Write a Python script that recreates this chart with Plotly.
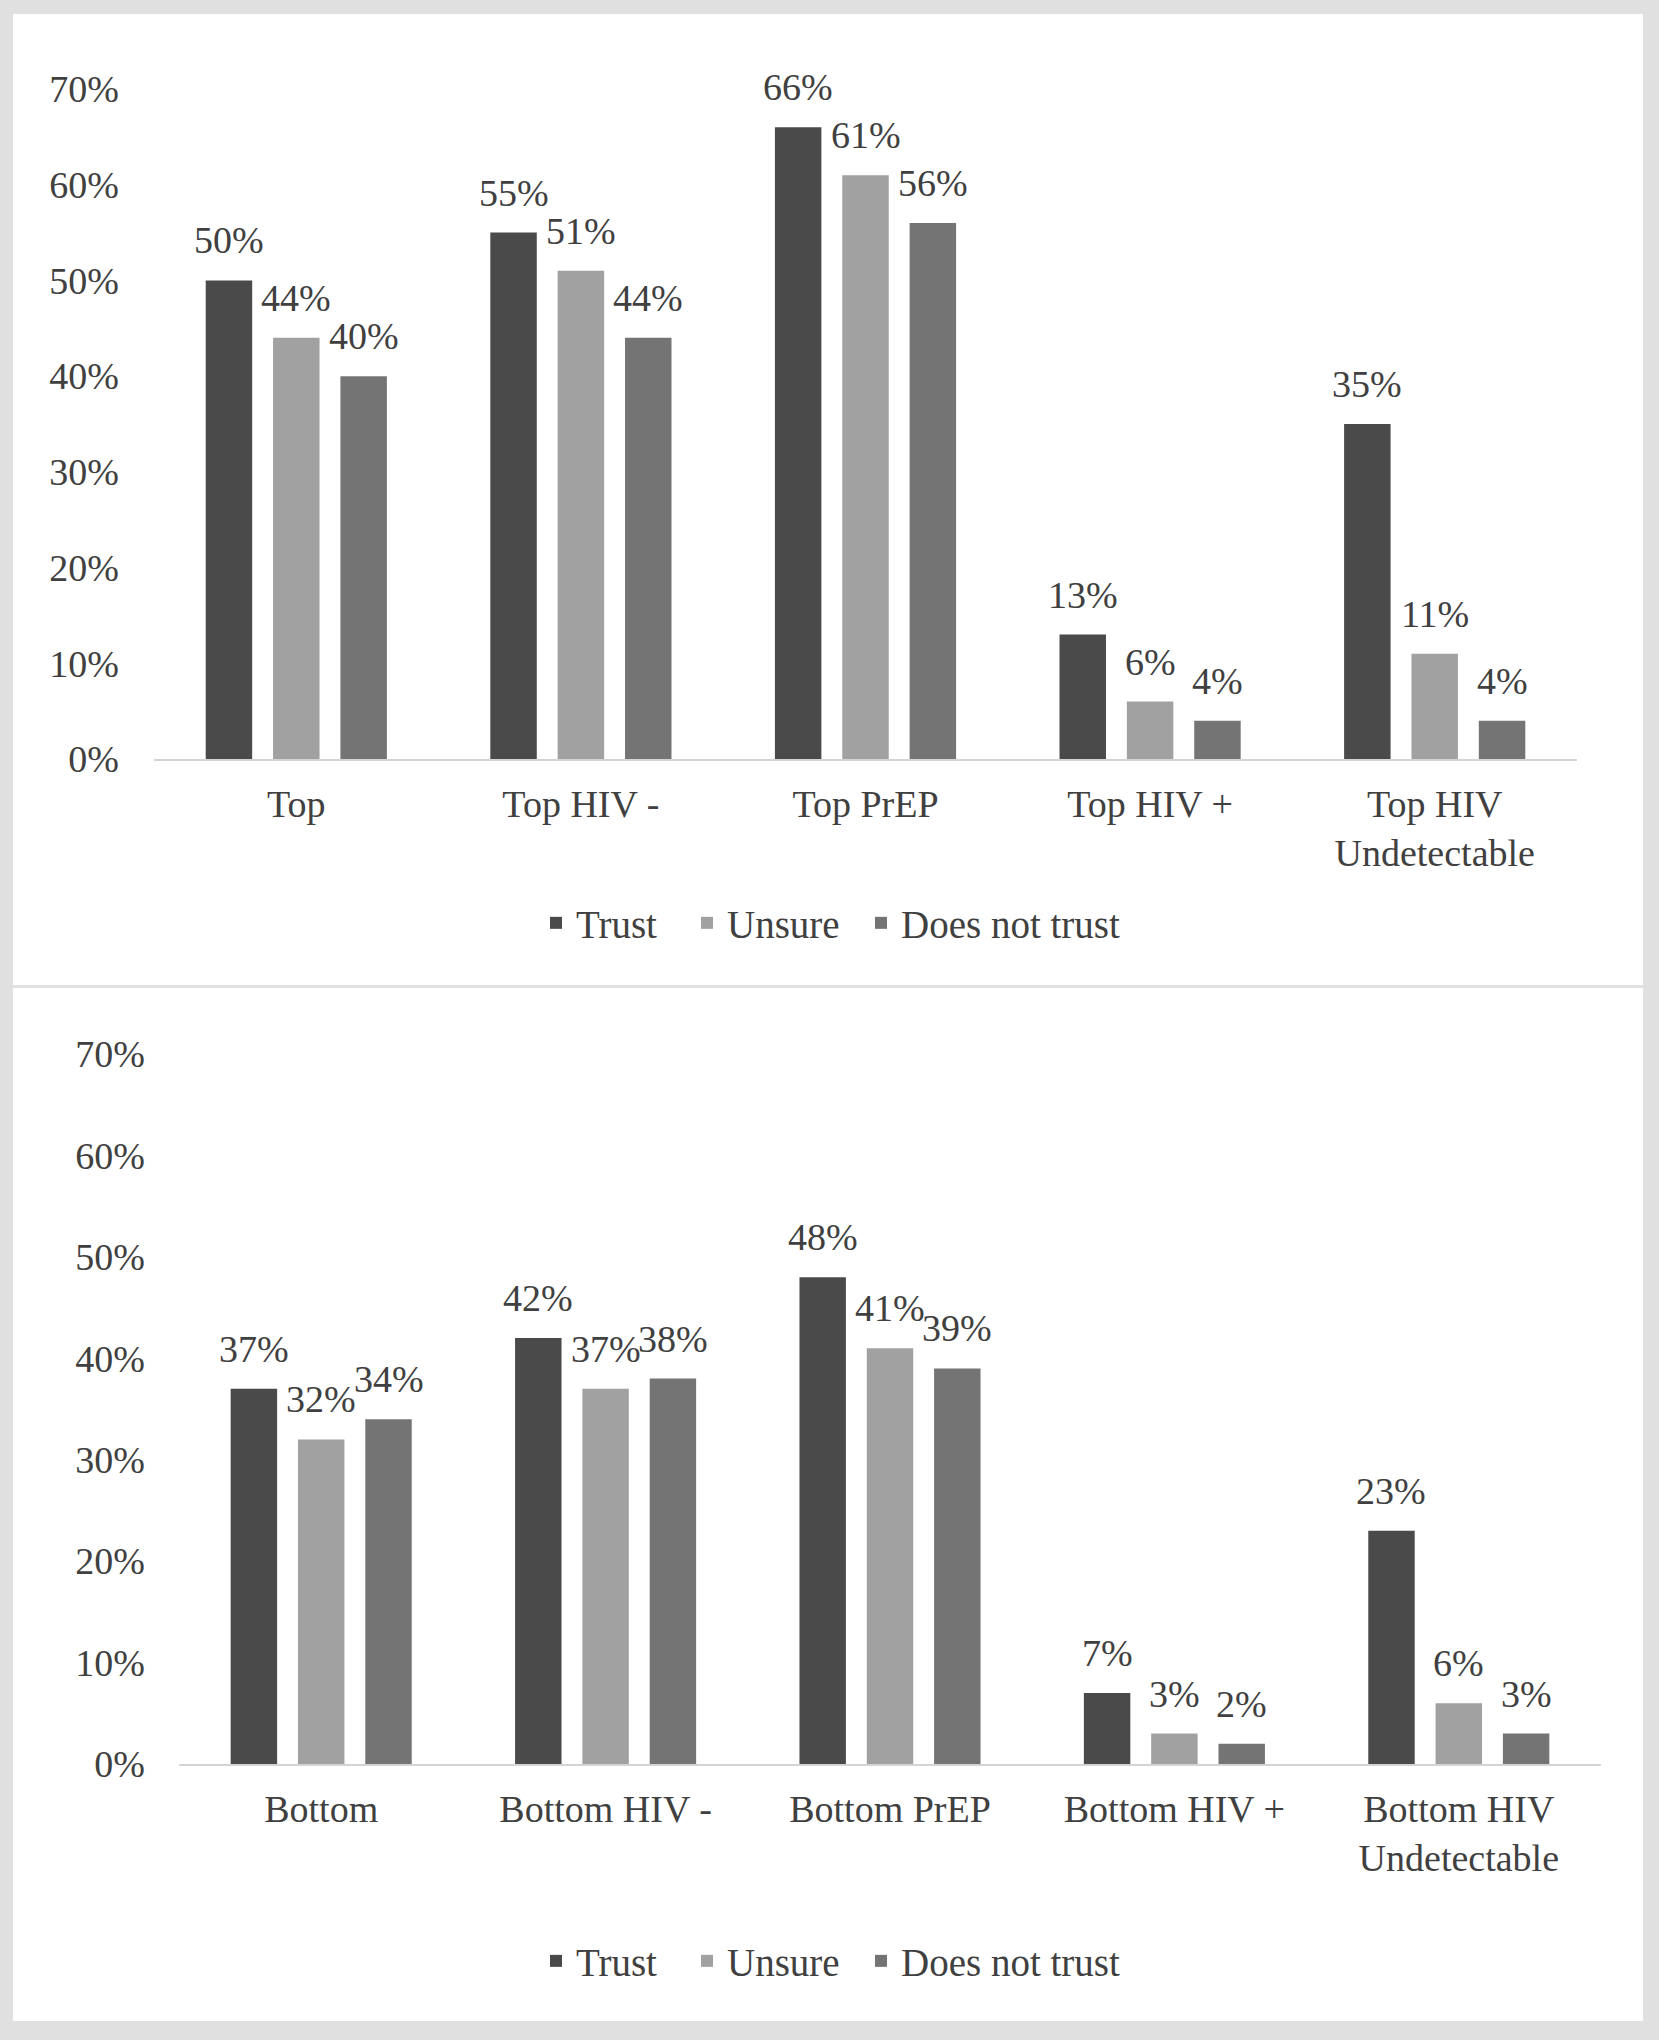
import plotly.graph_objects as go

# ---- data ----
series_names = ["Trust", "Unsure", "Does not trust"]
y_tick_values = [0, 10, 20, 30, 40, 50, 60, 70]
y_tick_labels = ["0%", "10%", "20%", "30%", "40%", "50%", "60%", "70%"]

top_categories = ["Top", "Top HIV -", "Top PrEP", "Top HIV +", "Top HIV<br>Undetectable"]
top_trust = [50, 55, 66, 13, 35]
top_unsure = [44, 51, 61, 6, 11]
top_not_trust = [40, 44, 56, 4, 4]

bottom_categories = ["Bottom", "Bottom HIV -", "Bottom PrEP", "Bottom HIV +", "Bottom HIV<br>Undetectable"]
bottom_trust = [37, 42, 48, 7, 23]
bottom_unsure = [32, 37, 41, 3, 6]
bottom_not_trust = [34, 38, 39, 2, 3]

# ---- style ----
W, H = 1659, 2040
FONT = "Liberation Serif, Times New Roman, serif"
TXT = "#404040"
FS = 38
COLORS = ["#4a4a4a", "#a1a1a1", "#747474"]
BARGAP = 0.29
BARGROUPGAP = 0.31
LEGEND_X_PX = [536, 687, 861]   # left edge of each legend entry (pixels)
LEGEND_Y_PX = [923, 1961]        # vertical centre of each panel's legend row


def px_x(v):
    return v / W


def px_y(v):
    return 1 - v / H


fig = go.Figure()

panels = [
    (top_categories, [top_trust, top_unsure, top_not_trust], "x", "y"),
    (bottom_categories, [bottom_trust, bottom_unsure, bottom_not_trust], "x2", "y2"),
]

annotations = []
legend_layouts = {}
legend_counter = 0
for p, (cats, vals, xa, ya) in enumerate(panels):
    for j, (name, v) in enumerate(zip(series_names, vals)):
        legend_counter += 1
        lg = "legend" if legend_counter == 1 else f"legend{legend_counter}"
        legend_layouts[lg] = dict(
            orientation="h", xanchor="left", yanchor="middle",
            x=px_x(LEGEND_X_PX[j]), y=px_y(LEGEND_Y_PX[p]),
            bgcolor="rgba(0,0,0,0)", font=dict(family=FONT, size=39, color=TXT),
        )
        fig.add_trace(go.Bar(
            x=cats, y=v, name=name, xaxis=xa, yaxis=ya, legend=lg,
            marker=dict(color=COLORS[j], line=dict(width=0)),
            hoverinfo="skip",
        ))
        slot = (1 - BARGAP) / 3
        for i, value in enumerate(v):
            annotations.append(dict(
                x=i + (j - 1) * slot, y=value, xref=xa, yref=ya,
                text=f"{value}%", showarrow=False,
                yanchor="middle", xanchor="center", yshift=40,
                font=dict(family=FONT, size=FS, color=TXT),
            ))

shapes = [
    dict(type="rect", xref="paper", yref="paper", x0=px_x(13), x1=px_x(1643),
         y0=px_y(985), y1=px_y(14), fillcolor="white", line=dict(width=0), layer="below"),
    dict(type="rect", xref="paper", yref="paper", x0=px_x(13), x1=px_x(1643),
         y0=px_y(2021), y1=px_y(988), fillcolor="white", line=dict(width=0), layer="below"),
]

xaxis_common = dict(
    showline=True, linecolor="#d4d4d4", linewidth=2, ticks="", showgrid=False,
    zeroline=False, tickfont=dict(family=FONT, size=FS, color=TXT), fixedrange=True,
    ticklabelstandoff=10, automargin=False,
)
yaxis_common = dict(
    range=[0, 70], tickvals=y_tick_values, ticktext=y_tick_labels,
    showline=False, showgrid=False, zeroline=False, ticks="",
    tickfont=dict(family=FONT, size=FS, color=TXT), fixedrange=True, automargin=False,
)

fig.update_layout(
    width=W, height=H,
    margin=dict(l=0, r=0, t=0, b=0, autoexpand=False),
    paper_bgcolor="#e0e0e0",
    plot_bgcolor="rgba(0,0,0,0)",
    barmode="group", bargap=BARGAP, bargroupgap=BARGROUPGAP,
    font=dict(family=FONT, size=FS, color=TXT),
    xaxis=dict(domain=[px_x(154), px_x(1577)], anchor="y", **xaxis_common),
    yaxis=dict(domain=[px_y(759), px_y(89)], anchor="x", ticklabelstandoff=34, **yaxis_common),
    xaxis2=dict(domain=[px_x(179), px_x(1601)], anchor="y2", **xaxis_common),
    yaxis2=dict(domain=[px_y(1764), px_y(1054)], anchor="x2", ticklabelstandoff=33, **yaxis_common),
    annotations=annotations,
    shapes=shapes,
    showlegend=True,
    **legend_layouts,
)

fig.write_html("out.html", config={"displayModeBar": False},
               post_script="document.body.style.margin='0';")
